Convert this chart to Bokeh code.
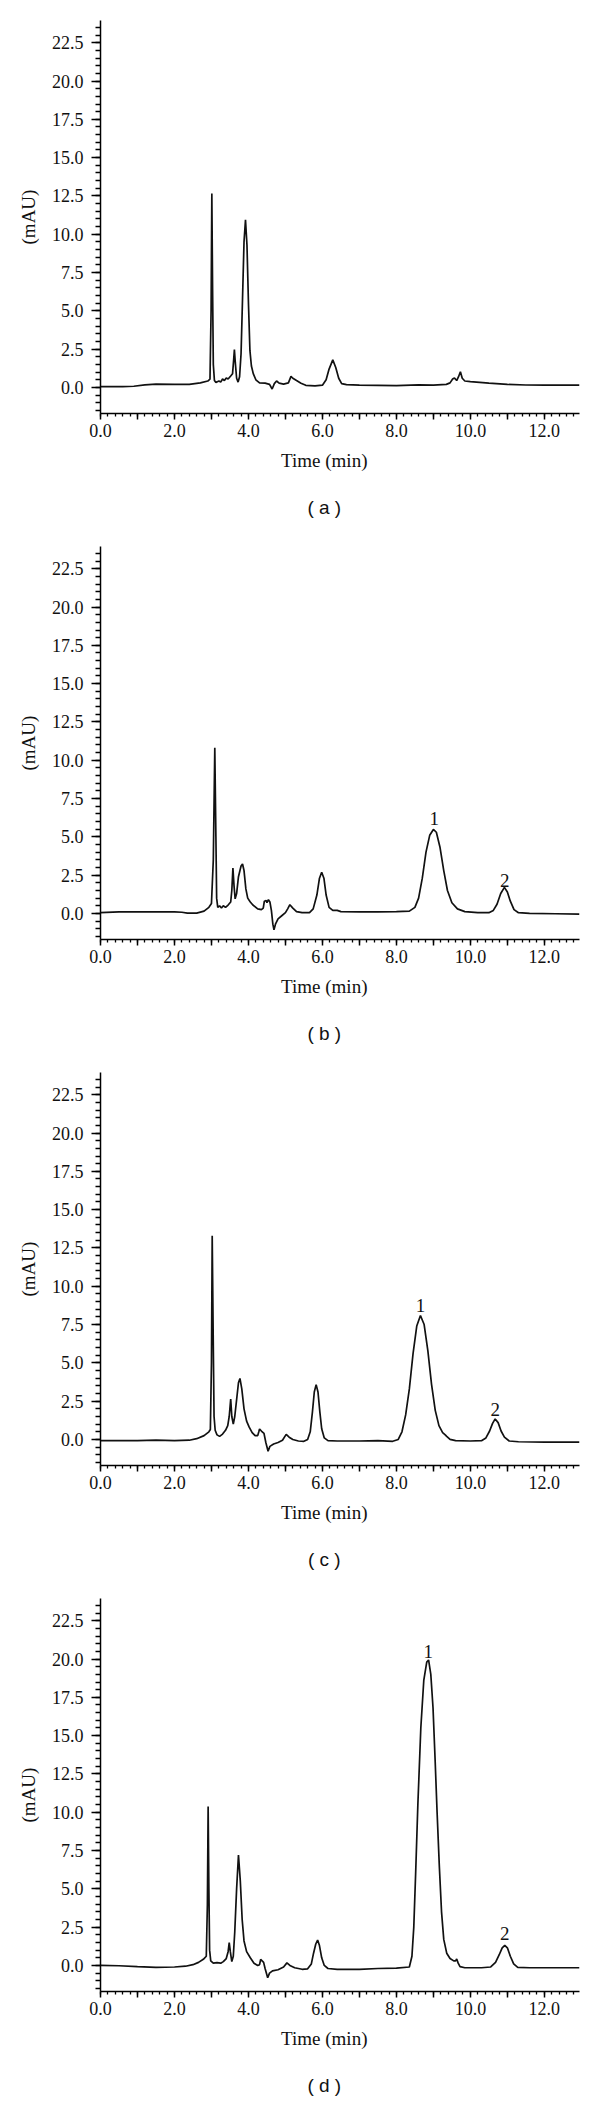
from bokeh.plotting import figure
from bokeh.layouts import column
from bokeh.models import Range1d, SingleIntervalTicker, PrintfTickFormatter, ColumnDataSource
from bokeh.embed import file_html
from bokeh.resources import INLINE
from bokeh.core.properties import value

# ---------------- data ----------------
time_a = [0.0, 0.6, 0.9, 1.2, 1.5, 2.0, 2.4, 2.7, 2.9, 2.96, 2.99, 3.01, 3.03, 3.05, 3.08, 3.12,
          3.2, 3.25, 3.3, 3.35, 3.4, 3.45, 3.52, 3.57, 3.6, 3.62, 3.645, 3.68, 3.72, 3.76, 3.8,
          3.84, 3.88, 3.92, 3.96, 4.0, 4.04, 4.08, 4.13, 4.2, 4.3, 4.45, 4.57, 4.64, 4.7, 4.76,
          4.83, 4.95, 5.08, 5.15, 5.2, 5.3, 5.42, 5.55, 5.8, 6.0, 6.1, 6.18, 6.28, 6.36, 6.44,
          6.52, 6.65, 7.0, 8.0, 8.6, 9.0, 9.35, 9.45, 9.52, 9.57, 9.63, 9.68, 9.73, 9.78, 9.85,
          10.0, 10.5, 11.0, 11.5, 12.0, 12.95]
signal_a = [0.05, 0.05, 0.08, 0.17, 0.22, 0.2, 0.2, 0.3, 0.42, 0.55, 5.0, 12.66, 6.5, 1.5, 0.45, 0.33,
            0.42, 0.35, 0.55, 0.45, 0.62, 0.55, 0.75, 0.9, 1.8, 2.47, 1.6, 0.6, 0.35, 0.7, 2.2,
            5.8, 9.5, 10.94, 9.3, 5.5, 2.4, 1.4, 0.9, 0.5, 0.3, 0.28, 0.2, -0.1, 0.25, 0.42,
            0.28, 0.22, 0.3, 0.72, 0.6, 0.45, 0.28, 0.14, 0.1, 0.15, 0.5, 1.2, 1.8, 1.3, 0.6,
            0.25, 0.18, 0.15, 0.12, 0.17, 0.15, 0.2, 0.3, 0.55, 0.62, 0.45, 0.7, 1.03, 0.6, 0.42,
            0.38, 0.28, 0.2, 0.16, 0.15, 0.15]

time_b = [0.0, 0.5, 1.0, 2.0, 2.2, 2.35, 2.6, 2.8, 2.93, 3.0, 3.05, 3.09, 3.12, 3.14, 3.17, 3.22,
          3.27, 3.32, 3.38, 3.45, 3.52, 3.55, 3.58, 3.61, 3.64, 3.68, 3.73, 3.8, 3.84, 3.88, 3.93,
          3.98, 4.05, 4.12, 4.25, 4.35, 4.4, 4.43, 4.48, 4.5, 4.54, 4.58, 4.62, 4.66, 4.69, 4.73,
          4.8, 4.9, 5.0, 5.06, 5.12, 5.2, 5.3, 5.45, 5.65, 5.75, 5.85, 5.92, 5.98, 6.04, 6.1,
          6.18, 6.28, 6.4, 6.5, 7.0, 7.5, 8.0, 8.35, 8.5, 8.6, 8.7, 8.8, 8.9, 9.0, 9.08, 9.18,
          9.28, 9.38, 9.5, 9.65, 9.85, 10.2, 10.5, 10.62, 10.72, 10.82, 10.92, 11.0, 11.08,
          11.18, 11.3, 11.6, 12.3, 12.95]
signal_b = [0.05, 0.1, 0.1, 0.1, 0.08, 0.02, 0.02, 0.15, 0.4, 0.65, 3.5, 10.81, 5.0, 1.0, 0.4, 0.5,
            0.35, 0.5, 0.4, 0.55, 0.75, 1.5, 2.97, 1.8, 0.95, 1.3, 2.4, 3.1, 3.23, 2.8, 1.6,
            1.0, 0.75, 0.55, 0.3, 0.25, 0.35, 0.8, 0.85, 0.7, 0.9, 0.75, 0.2, -0.7, -1.07, -0.7,
            -0.35, -0.15, 0.05, 0.3, 0.57, 0.35, 0.12, 0.05, 0.05, 0.3, 1.2, 2.3, 2.69, 2.3, 1.2,
            0.4, 0.2, 0.2, 0.12, 0.1, 0.1, 0.12, 0.15, 0.4, 1.0, 2.3, 4.0, 5.1, 5.48, 5.3, 4.3,
            2.8, 1.5, 0.7, 0.3, 0.12, 0.05, 0.05, 0.2, 0.6, 1.3, 1.7, 1.4, 0.8,
            0.25, 0.05, 0.0, -0.02, -0.05]

time_c = [0.0, 1.0, 1.5, 2.0, 2.4, 2.6, 2.8, 2.93, 2.97, 3.0, 3.02, 3.05, 3.07, 3.1, 3.15, 3.22,
          3.3, 3.38, 3.44, 3.48, 3.52, 3.55, 3.59, 3.63, 3.68, 3.73, 3.77, 3.82, 3.88, 3.95, 4.02,
          4.1, 4.18, 4.25, 4.28, 4.3, 4.35, 4.42, 4.47, 4.53, 4.58, 4.68, 4.8, 4.92, 5.02, 5.1,
          5.2, 5.35, 5.5, 5.6, 5.67, 5.73, 5.78, 5.83, 5.88, 5.93, 5.98, 6.05, 6.15, 6.4, 7.0,
          7.5, 7.9, 8.05, 8.15, 8.25, 8.35, 8.45, 8.55, 8.65, 8.75, 8.85, 8.95, 9.05, 9.15, 9.25,
          9.32, 9.36, 9.45, 9.6, 10.0, 10.3, 10.42, 10.52, 10.6, 10.67, 10.75, 10.83, 10.92,
          11.05, 11.3, 12.0, 12.95]
signal_c = [-0.08, -0.08, -0.05, -0.08, -0.05, 0.05, 0.25, 0.5, 0.65, 5.0, 13.3, 6.0, 1.5, 0.6, 0.3, 0.2,
            0.35, 0.6, 0.9, 1.5, 2.64, 1.5, 1.0, 1.5, 2.6, 3.7, 3.98, 3.3, 2.0, 1.2, 0.8,
            0.45, 0.25, 0.25, 0.5, 0.68, 0.55, 0.4, -0.2, -0.77, -0.45, -0.3, -0.2, -0.05, 0.33, 0.15,
            0.0, -0.1, -0.12, 0.0, 0.5, 1.8, 3.1, 3.58, 3.1, 1.8, 0.7, 0.1, -0.08, -0.1, -0.1,
            -0.08, -0.12, 0.0, 0.5, 1.6, 3.3, 5.6, 7.4, 8.09, 7.5, 5.8, 3.6, 1.9, 0.9, 0.45,
            0.3, 0.2, 0.0, -0.08, -0.1, -0.08, 0.1, 0.55, 1.05, 1.34, 1.1, 0.55, 0.15,
            -0.1, -0.15, -0.18, -0.18]

time_d = [0.0, 0.5, 1.0, 1.5, 2.0, 2.3, 2.5, 2.65, 2.78, 2.86, 2.89, 2.91, 2.93, 2.95, 2.98, 3.05,
          3.15, 3.25, 3.32, 3.4, 3.45, 3.48, 3.51, 3.55, 3.59, 3.63, 3.68, 3.73, 3.78, 3.83, 3.88,
          3.95, 4.05, 4.15, 4.25, 4.3, 4.33, 4.37, 4.41, 4.45, 4.52, 4.57, 4.65, 4.8, 4.95, 5.04,
          5.12, 5.25, 5.45, 5.6, 5.7, 5.76, 5.82, 5.87, 5.92, 5.98, 6.05, 6.15, 6.4, 7.0, 7.5,
          8.0, 8.35, 8.42, 8.47, 8.52, 8.58, 8.66, 8.74, 8.82, 8.87, 8.93, 8.99, 9.05, 9.1, 9.16,
          9.22, 9.28, 9.36, 9.45, 9.55, 9.6, 9.63, 9.67, 9.72, 9.85, 10.3, 10.55, 10.68, 10.78,
          10.86, 10.93, 11.0, 11.08, 11.17, 11.28, 11.6, 12.95]
signal_d = [0.0, -0.02, -0.08, -0.12, -0.1, -0.05, 0.05, 0.2, 0.4, 0.6, 4.0, 10.38, 5.0, 1.0, 0.3, 0.15,
            0.18, 0.15, 0.25, 0.45, 0.9, 1.49, 0.9, 0.25, 0.6, 2.2, 5.0, 7.21, 5.5, 3.0, 1.6,
            0.9, 0.5, 0.15, 0.0, 0.05, 0.39, 0.3, 0.2, -0.2, -0.8, -0.5, -0.35, -0.28, -0.1, 0.17,
            0.0, -0.15, -0.25, -0.22, 0.1, 0.8, 1.4, 1.66, 1.3, 0.5, 0.0, -0.2, -0.25, -0.25, -0.2,
            -0.18, -0.1, 0.6, 2.5, 6.0, 10.5, 15.5, 18.6, 19.8, 19.94, 19.0, 16.8, 13.2, 10.0, 6.5,
            3.5, 1.7, 0.8, 0.45, 0.3, 0.3, 0.42, 0.15, -0.08, -0.15, -0.15, -0.1, 0.2, 0.7,
            1.15, 1.31, 1.15, 0.6, 0.1, -0.12, -0.15, -0.15]

peak_text = ["1", "2"]
peak_time_b = [9.02, 10.93]
peak_label_y_b = [6.2, 2.15]
peak_time_c = [8.65, 10.67]
peak_label_y_c = [8.75, 1.95]
peak_time_d = [8.86, 10.93]
peak_label_y_d = [20.5, 2.1]

panel_names = ["( a )", "( b )", "( c )", "( d )"]
x_title = "Time (min)"
y_title = "(mAU)"

x_tick_labels = {i: ("%.1f" % i if i % 2 == 0 else "") for i in range(0, 14)}

SERIF = "Liberation Serif"
SANS = "Liberation Sans"
INK = "#111111"

W = 600
LEFT = 100
RIGHT = 21
CHART_H = 447          # frame 20 .. 413, tick labels below
PANEL_H = [526, 526, 526, 528]


def make_chart(t, v, lt, ly):
    p = figure(width=W, height=CHART_H,
               x_range=Range1d(0, 12.95), y_range=Range1d(-1.7, 23.95),
               output_backend="svg", toolbar_location=None,
               min_border_left=LEFT, min_border_right=RIGHT,
               min_border_top=20, min_border_bottom=34)
    p.outline_line_color = None
    p.xgrid.visible = False
    p.ygrid.visible = False

    p.line(t, v, line_color=INK, line_width=1.7)

    if lt:
        src = ColumnDataSource(dict(x=lt, y=ly, txt=peak_text))
        p.text(x="x", y="y", text="txt", source=src, text_align="center",
               text_baseline="middle", text_font=value(SERIF),
               text_font_size="19px", text_color=INK)

    xa = p.xaxis[0]
    xa.ticker = SingleIntervalTicker(interval=1.0, num_minor_ticks=5)
    xa.major_label_overrides = x_tick_labels
    xa.major_tick_out = 6
    xa.major_tick_in = 0
    xa.minor_tick_out = 3
    xa.minor_tick_in = 0
    xa.axis_line_width = 1.5
    xa.major_tick_line_width = 1.5
    xa.minor_tick_line_width = 1.3
    xa.major_label_text_font = SERIF
    xa.major_label_text_font_size = "18px"
    xa.major_label_text_color = INK
    xa.major_label_standoff = 4

    ya = p.yaxis[0]
    ya.ticker = SingleIntervalTicker(interval=2.5, num_minor_ticks=5)
    ya.formatter = PrintfTickFormatter(format="%.1f")
    ya.major_tick_out = 9
    ya.major_tick_in = 0
    ya.minor_tick_out = 5
    ya.minor_tick_in = 0
    ya.axis_line_width = 1.5
    ya.major_tick_line_width = 1.5
    ya.minor_tick_line_width = 1.3
    ya.major_label_text_font = SERIF
    ya.major_label_text_font_size = "18px"
    ya.major_label_text_color = INK
    ya.major_label_standoff = 8
    ya.axis_label = y_title
    ya.axis_label_text_font = SERIF
    ya.axis_label_text_font_size = "19px"
    ya.axis_label_text_font_style = "normal"
    ya.axis_label_text_color = INK
    ya.axis_label_standoff = 10
    return p


def make_caption(name, h):
    # strip under the chart holding the axis title and the panel letter
    q = figure(width=W, height=h, x_range=Range1d(0, 12.95), y_range=Range1d(0, h),
               output_backend="svg", toolbar_location=None,
               x_axis_type=None, y_axis_type=None,
               min_border_left=LEFT, min_border_right=RIGHT,
               min_border_top=0, min_border_bottom=0)
    q.outline_line_color = None
    q.text(x=[6.05], y=[h - 13], text=[x_title], text_align="center",
           text_baseline="middle", text_font=value(SERIF), text_font_size="19px",
           text_color=INK)
    q.text(x=[6.05], y=[h - 60], text=[name], text_align="center",
           text_baseline="middle", text_font=value(SANS), text_font_size="19px",
           text_color=INK)
    return q


series = [(time_a, signal_a, None, None),
          (time_b, signal_b, peak_time_b, peak_label_y_b),
          (time_c, signal_c, peak_time_c, peak_label_y_c),
          (time_d, signal_d, peak_time_d, peak_label_y_d)]

items = []
for (t, v, lt, ly), name, ph in zip(series, panel_names, PANEL_H):
    items.append(make_chart(t, v, lt, ly))
    items.append(make_caption(name, ph - CHART_H))

layout = column(*items, spacing=0)
open("out.html", "w").write(file_html(layout, INLINE))
